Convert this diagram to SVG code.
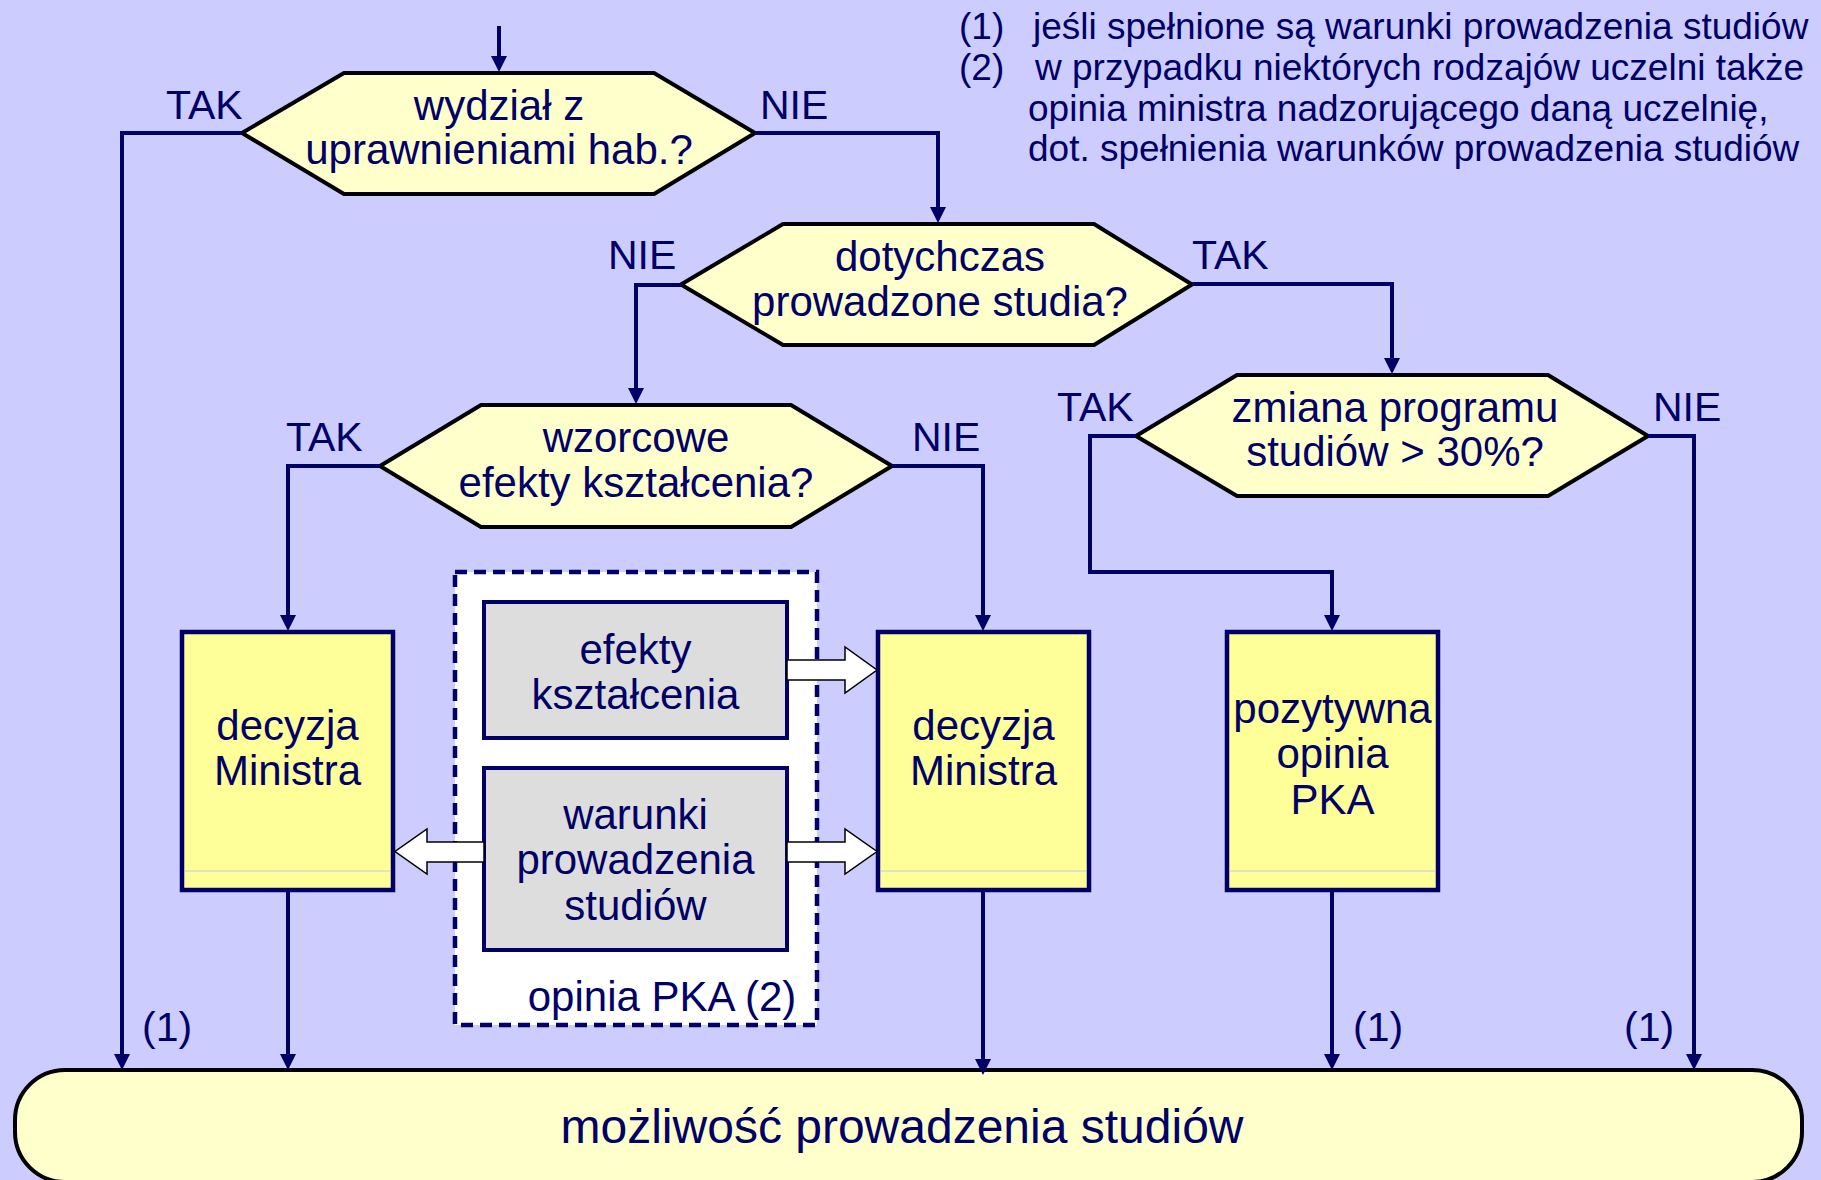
<svg xmlns="http://www.w3.org/2000/svg" width="1821" height="1180" viewBox="0 0 1821 1180">
<defs>
<marker id="ah" viewBox="0 0 16 16" markerWidth="16" markerHeight="16" refX="12" refY="8" orient="auto" markerUnits="userSpaceOnUse"><path d="M0,0 L16,8 L0,16 z" fill="#000066"/></marker>
<style>
text{font-family:"Liberation Sans",Arial,sans-serif;fill:#000066}
.t{font-size:42px;text-anchor:middle}
.big{font-size:48px;text-anchor:middle}
.lbl{font-size:41px}
.leg{font-size:37px}
.hex{fill:#ffffcc;stroke:#000;stroke-width:4;stroke-linejoin:round}
.box{fill:#ffff99;stroke:#000066;stroke-width:4.5}
.gray{fill:#dddddd;stroke:#000066;stroke-width:4}
.c{fill:none;stroke:#000066;stroke-width:4;marker-end:url(#ah)}
.ba{fill:#ffffff;stroke:#000;stroke-width:1.5}
.sep{stroke:#c4c4ee;stroke-width:1.2}
</style>
</defs>
<rect x="0" y="0" width="1821" height="1180" fill="#ccccff"/>

<g id="legend">
<text class="leg" x="959" y="38.5">(1)</text>
<text class="leg" x="1033" y="38.5">jeśli spełnione są warunki prowadzenia studiów</text>
<text class="leg" x="959" y="79.5">(2)</text>
<text class="leg" x="1035" y="79.5">w przypadku niektórych rodzajów uczelni także</text>
<text class="leg" x="1028" y="120.5">opinia ministra nadzorującego daną uczelnię,</text>
<text class="leg" x="1028" y="161">dot. spełnienia warunków prowadzenia studiów</text>
</g>

<g id="terminal">
<rect x="15" y="1070" width="1787" height="112" rx="50" ry="50" fill="#ffffcc" stroke="#000" stroke-width="4"/>
<text class="big" x="902" y="1143">możliwość prowadzenia studiów</text>
</g>

<g id="hex1">
<polygon class="hex" points="242,133 344,73 654,73 755,133 654,194 344,194"/>
<text class="t" x="499" y="119.5">wydział z</text>
<text class="t" x="499" y="163.5">uprawnieniami hab.?</text>
</g>

<g id="hex2">
<polygon class="hex" points="681,284.5 783,224 1094,224 1192,284.5 1094,345 783,345"/>
<text class="t" x="940" y="270.5">dotychczas</text>
<text class="t" x="940" y="315.5">prowadzone studia?</text>
</g>

<g id="hex3">
<polygon class="hex" points="380,466 481,405 791,405 892,466 791,527 481,527"/>
<text class="t" x="636" y="452">wzorcowe</text>
<text class="t" x="636" y="496.5">efekty kształcenia?</text>
</g>

<g id="hex4">
<polygon class="hex" points="1136,436 1237,375 1548,375 1648,436 1548,496 1237,496"/>
<text class="t" x="1395" y="421.5">zmiana programu</text>
<text class="t" x="1395" y="466">studiów &gt; 30%?</text>
</g>

<g id="box1">
<rect class="box" x="182" y="632" width="211" height="258"/>
<line class="sep" x1="185" y1="871" x2="390" y2="871"/>
<text class="t" x="287.5" y="740">decyzja</text>
<text class="t" x="287.5" y="785">Ministra</text>
</g>

<g id="box2">
<rect class="box" x="878" y="632" width="211" height="258"/>
<line class="sep" x1="881" y1="871" x2="1086" y2="871"/>
<text class="t" x="983.5" y="740">decyzja</text>
<text class="t" x="983.5" y="785">Ministra</text>
</g>

<g id="box3">
<rect class="box" x="1227" y="632" width="211" height="258"/>
<line class="sep" x1="1230" y1="871" x2="1435" y2="871"/>
<text class="t" x="1332.5" y="723">pozytywna</text>
<text class="t" x="1332.5" y="768">opinia</text>
<text class="t" x="1332.5" y="814">PKA</text>
</g>

<g id="opiniaPKA">
<rect x="455" y="572" width="362" height="453" fill="#ffffff" stroke="#000066" stroke-width="4.5" stroke-dasharray="12 7"/>
<text class="t" x="662" y="1011">opinia PKA (2)</text>
</g>

<g id="efekty">
<rect class="gray" x="484" y="602" width="303" height="136"/>
<text class="t" x="635.5" y="663.5">efekty</text>
<text class="t" x="635.5" y="708.5">kształcenia</text>
</g>

<g id="warunki">
<rect class="gray" x="484" y="768" width="303" height="182"/>
<text class="t" x="635.5" y="828.5">warunki</text>
<text class="t" x="635.5" y="874">prowadzenia</text>
<text class="t" x="635.5" y="919.5">studiów</text>
</g>

<g id="labels">
<text class="lbl" x="166" y="119">TAK</text>
<text class="lbl" x="760" y="119">NIE</text>
<text class="lbl" x="608" y="269">NIE</text>
<text class="lbl" x="1192" y="269">TAK</text>
<text class="lbl" x="286" y="451">TAK</text>
<text class="lbl" x="912" y="451">NIE</text>
<text class="lbl" x="1057" y="421">TAK</text>
<text class="lbl" x="1653" y="421">NIE</text>
<text class="lbl" x="142" y="1041">(1)</text>
<text class="lbl" x="1353" y="1041">(1)</text>
<text class="lbl" x="1624" y="1041">(1)</text>
</g>

<g id="connectors">
<path class="c" d="M499,26 V68"/>
<path class="c" d="M242,133 H122 V1066"/>
<path class="c" d="M755,133 H938 V219"/>
<path class="c" d="M681,285 H636 V400"/>
<path class="c" d="M1192,284 H1392 V370"/>
<path class="c" d="M380,466 H288 V627"/>
<path class="c" d="M892,466 H983 V627"/>
<path class="c" d="M1136,436 H1090 V572 H1332 V627"/>
<path class="c" d="M1648,436 H1694 V1066"/>
<path class="c" d="M288,892 V1066"/>
<path class="c" d="M983,892 V1071"/>
<path class="c" d="M1332,892 V1066"/>
<path class="ba" d="M787,660 H845 V647 L877,670 L845,693 V680 H787 Z"/>
<path class="ba" d="M787,842 H845 V829 L877,851.5 L845,874 V862 H787 Z"/>
<path class="ba" d="M484,842 H427 V829 L395,851.5 L427,874 V862 H484 Z"/>
</g>
</svg>
